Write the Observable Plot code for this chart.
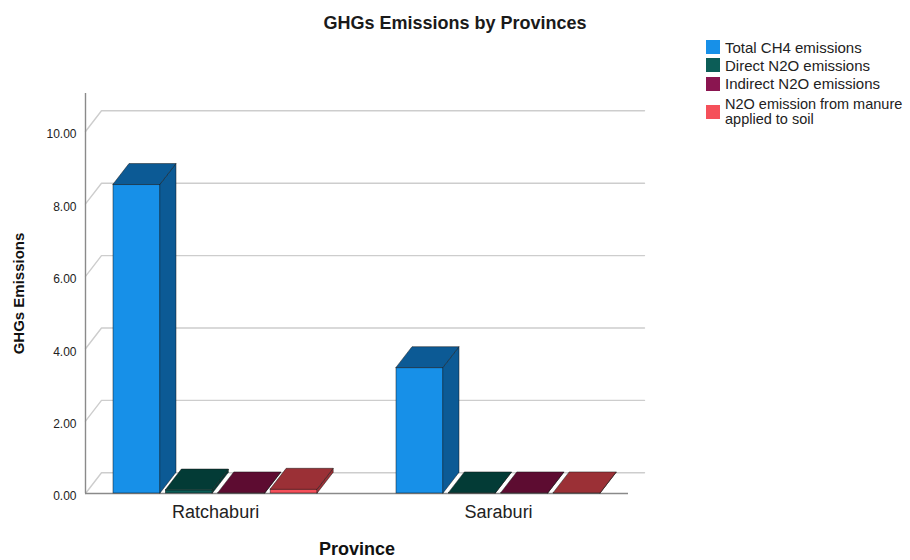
<!DOCTYPE html>
<html>
<head>
<meta charset="utf-8">
<script src="https://cdn.jsdelivr.net/npm/d3@7"></script>
<script src="https://cdn.jsdelivr.net/npm/@observablehq/plot@0.6"></script>
<style>
  html, body { margin: 0; padding: 0; background: #fff; }
  body { font-family: "Liberation Sans", Arial, sans-serif; color: #1a1a1a; }
  #wrap { position: relative; width: 910px; height: 560px; overflow: hidden; }
  #title { position: absolute; left: 0; top: 12px; width: 910px; text-align: center;
           font-weight: bold; font-size: 18px; line-height: 22px; }
  #legend { position: absolute; left: 706px; top: 38px; font-size: 15px; color: #222; }
  .item { display: flex; align-items: center; height: 18.3px; }
  .item.two { height: 30px; margin-top: 4px; }
  .item.two span { line-height: 14.5px; font-size: 14.5px; }
  .sw { width: 14px; height: 14px; margin-right: 5px; flex: none; }
  #chart { position: absolute; left: 0; top: 0; }
</style>
</head>
<body>
<div id="wrap">
  <div id="chart"></div>
  <div id="title"></div>
  <div id="legend"></div>
</div>
<script>
// GHG emissions per province
const provinces = ["Ratchaburi", "Saraburi"];
const seriesNames = [
  "Total CH4 emissions",
  "Direct N2O emissions",
  "Indirect N2O emissions",
  "N2O emission from manure applied to soil"
];
const totalCH4 = [8.53, 3.47];
const directN2O = [0.09, 0.01];
const indirectN2O = [0.01, 0.01];
const manureN2O = [0.11, 0.01];
const yTicks = [0, 2, 4, 6, 8, 10];

const titleText = "GHGs Emissions by Provinces";
const xLabel = "Province";
const yLabel = "GHGs Emissions";

// face colours: front face and the darker top/side faces
const frontColors = ["#1790e8", "#0c5d57", "#8a1550", "#f5505a"];
const shadeColors = ["#0c5a95", "#033b36", "#5d0c31", "#9b3036"];

// layout of the pseudo-3D clusters (x in layout units of the floor)
const floorEnd = 543;
const groupStart = [28, 311];
const barStep = 52.4;
const barWidth = 47;
const depthX = 16;       // receding depth, x units
const depthY = 0.572;    // receding depth, y units
const yTop = 11.05;

const seriesValues = [totalCH4, directN2O, indirectN2O, manureN2O];
const bars = [];
provinces.forEach((p, i) => {
  seriesValues.forEach((vals, j) => {
    const x1 = groupStart[i] + j * barStep;
    bars.push({province: p, j, x1, x2: x1 + barWidth, base: 0, v: vals[i]});
  });
});
const groupCenters = provinces.map((p, i) => ({
  name: p,
  x: groupStart[i] + (3 * barStep + barWidth) / 2,
  y: 0
}));

// back-wall grid lines, each with its diagonal from the axis
const grid = yTicks.flatMap(t => [
  {t, x: 0, y: t},
  {t, x: depthX, y: t + depthY},
  {t, x: floorEnd + depthX, y: t + depthY}
]);

const edge = {stroke: "#111", strokeOpacity: 0.6, strokeWidth: 0.8};

const barMarks = bars.flatMap(b => [
  Plot.rect([b], {x1: "x1", x2: "x2", y1: "base", y2: "v", fill: frontColors[b.j], ...edge}),
  Plot.areaY(
    [{x: b.x2, lo: 0, hi: b.v}, {x: b.x2 + depthX, lo: depthY, hi: b.v + depthY}],
    {x: "x", y1: "lo", y2: "hi", fill: shadeColors[b.j], ...edge}
  ),
  Plot.areaX(
    [{y: b.v, lo: b.x1, hi: b.x2}, {y: b.v + depthY, lo: b.x1 + depthX, hi: b.x2 + depthX}],
    {y: "y", x1: "lo", x2: "hi", fill: shadeColors[b.j], ...edge}
  )
]);

const chart = Plot.plot({
  width: 910,
  height: 560,
  marginLeft: 85,
  marginRight: 282,
  marginTop: 93,
  marginBottom: 67,
  style: {fontFamily: '"Liberation Sans", Arial, sans-serif', fontSize: "12px", color: "#222", background: "transparent", overflow: "visible"},
  x: {domain: [0, floorEnd], axis: null},
  y: {domain: [0, yTop], axis: null},
  marks: [
    Plot.line(grid, {x: "x", y: "y", z: "t", stroke: "#cdcdcd", strokeWidth: 1.4}),
    Plot.ruleY([0], {x1: 0, x2: floorEnd, stroke: "#8a8a8a", strokeWidth: 1.4}),
    Plot.ruleX([0], {y1: 0, y2: yTop, stroke: "#8a8a8a", strokeWidth: 1.4}),
    Plot.axisY({ticks: yTicks, tickSize: 0, tickPadding: 9, tickFormat: d => d.toFixed(2),
                label: null, fontSize: 12, dy: 3}),
    ...barMarks,
    Plot.text(groupCenters, {x: "x", y: "y", text: "name", dy: 19, fontSize: 18, fill: "#222"}),
    Plot.text([xLabel], {frameAnchor: "bottom", lineAnchor: "middle", textAnchor: "middle", dy: 56,
                         fontSize: 18, fontWeight: "bold", fill: "#111"}),
    Plot.text([yLabel], {frameAnchor: "left", textAnchor: "middle", lineAnchor: "middle", dx: -66, rotate: -90,
                         fontSize: 15, fontWeight: "bold", fill: "#111"})
  ]
});
document.getElementById("chart").append(chart);

document.getElementById("title").textContent = titleText;

const legend = document.getElementById("legend");
seriesNames.forEach((name, j) => {
  const item = document.createElement("div");
  item.className = "item" + (j === 3 ? " two" : "");
  const sw = document.createElement("div");
  sw.className = "sw";
  sw.style.background = frontColors[j];
  const label = document.createElement("span");
  if (j === 3) {
    label.innerHTML = "N2O emission from manure<br>applied to soil";
  } else {
    label.textContent = name;
  }
  item.append(sw, label);
  legend.append(item);
});
</script>
</body>
</html>
